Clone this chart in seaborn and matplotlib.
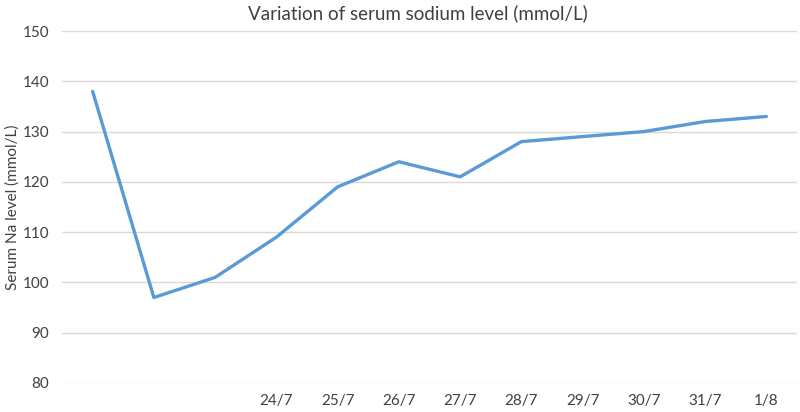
import matplotlib
matplotlib.use("Agg")
import matplotlib.pyplot as plt
import seaborn as sns
import pandas as pd

dates = ["", "", "", "24/7", "25/7", "26/7", "27/7", "28/7", "29/7", "30/7", "31/7", "1/8"]
sodium = [138, 97, 101, 109, 119, 124, 121, 128, 129, 130, 132, 133]
yticks = [80, 90, 100, 110, 120, 130, 140, 150]

sns.set_style("white")
plt.rcParams['font.family'] = ['Lato', 'DejaVu Sans']

df = pd.DataFrame({"idx": list(range(len(sodium))), "Na": sodium})

fig = plt.figure(figsize=(8, 4.12), dpi=100)
ax = fig.add_axes([62/800, 1 - 383/412, (797 - 62)/800, (383 - 31)/412])
sns.lineplot(data=df, x="idx", y="Na", ax=ax, color="#5B9BD5", linewidth=2.4)

ax.set_xlim(-0.5, len(sodium) - 0.5)
ax.set_ylim(80, 150)
ax.set_yticks(yticks)
ax.set_yticklabels([str(v) for v in yticks], fontsize=11, color="#404040")
ax.set_xticks(list(range(len(dates))))
ax.set_xticklabels(dates, fontsize=11, color="#404040")
ax.tick_params(axis='x', length=0, pad=8)
ax.tick_params(axis='y', length=0, pad=9)
ax.yaxis.grid(True, color="#D9D9D9", linewidth=1)
ax.set_axisbelow(True)
for s in ax.spines.values():
    s.set_visible(False)
ax.set_xlabel("")
ax.set_ylabel("Serum Na level (mmol/L)", fontsize=11, color="#404040")
ax.yaxis.set_label_coords(-42 / 735, 0.5)
fig.text(0.5 * (62 + 797) / 800 - 0.015, 1 - 13/412, "Variation of serum sodium level (mmol/L)",
         ha="center", va="center", fontsize=13.5, color="#404040")

fig.savefig("out.png", dpi=100)
